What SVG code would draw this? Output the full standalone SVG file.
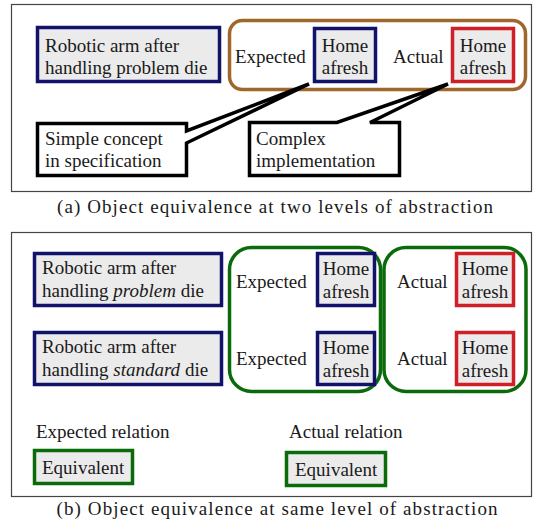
<svg xmlns="http://www.w3.org/2000/svg" width="543" height="521" viewBox="0 0 543 521" font-family="'Liberation Serif', 'DejaVu Serif', serif">
<style>
text{font-family:'Liberation Serif','DejaVu Serif',serif;font-size:19px;fill:#1a1a1a}
.frame{fill:#fff;stroke:#444;stroke-width:1.2}
.navy{fill:#ebebeb;stroke:#12126b;stroke-width:3.5}
.red{fill:#ebebeb;stroke:#d01f26;stroke-width:3.5}
.grn{fill:#ebebeb;stroke:#0b6b0b;stroke-width:3.5}
.brown{fill:none;stroke:#a0672d;stroke-width:3.5}
.gring{fill:none;stroke:#0b6b0b;stroke-width:3.5}
.call{fill:#fff;stroke:#000;stroke-width:3.5;stroke-linejoin:miter}
.mid{text-anchor:middle}
.cap{font-size:19px}
</style>
<rect width="543" height="521" fill="#fff"/>
<g id="panel-a">
<rect class="frame" x="11.5" y="4.5" width="520" height="187"/>
<g id="a-arm"><rect class="navy" x="37.5" y="27.5" width="182" height="54"/>
<text x="45" y="52">Robotic arm after</text><text x="45" y="74">handling problem die</text></g>
<g id="a-group"><rect class="brown" x="229.5" y="20.5" width="296" height="69" rx="13"/>
<text x="235" y="63">Expected</text><text x="393" y="63">Actual</text></g>
<g id="a-home-exp"><rect class="navy" x="314.5" y="28.5" width="61" height="53"/>
<text class="mid" x="345" y="52">Home</text><text class="mid" x="345" y="74">afresh</text></g>
<g id="a-home-act"><rect class="red" x="452.5" y="28.5" width="61" height="53"/>
<text class="mid" x="483" y="52">Home</text><text class="mid" x="483" y="74">afresh</text></g>
</g>
<g id="connectors">
<g id="a-callout-simple"><path class="call" d="M37.5,123.5 H186.5 V131 L309,84 L186.5,143 V175.5 H37.5 Z"/>
<text x="45" y="145">Simple concept</text><text x="45" y="167">in specification</text></g>
<g id="a-callout-complex"><path class="call" d="M249.5,122.5 H337 L448,84 L370,122.5 H399.5 V175.5 H249.5 Z"/>
<text x="256" y="145">Complex</text><text x="256" y="167">implementation</text></g>
</g>
<text id="caption-a" class="cap mid" x="275" y="213" textLength="436" lengthAdjust="spacing">(a) Object equivalence at two levels of abstraction</text>
<g id="panel-b">
<rect class="frame" x="11.5" y="232.5" width="520" height="264"/>
<g id="b-arm-problem"><rect class="navy" x="34.5" y="253.5" width="187" height="52"/>
<text x="42" y="274">Robotic arm after</text><text x="42" y="297">handling <tspan font-style="italic">problem</tspan> die</text></g>
<g id="b-arm-standard"><rect class="navy" x="34.5" y="332.5" width="187" height="52"/>
<text x="42" y="353">Robotic arm after</text><text x="42" y="376">handling <tspan font-style="italic">standard</tspan> die</text></g>
<g id="b-expected-group"><rect class="gring" x="229.5" y="247.5" width="151" height="144" rx="22"/>
<text x="236" y="288">Expected</text><text x="236" y="365">Expected</text></g>
<g id="b-actual-group"><rect class="gring" x="384" y="247.5" width="142" height="144" rx="22"/>
<text x="397" y="288">Actual</text><text x="397" y="365">Actual</text></g>
<g id="b-home-exp1"><rect class="navy" x="317.5" y="253.5" width="57" height="52"/>
<text class="mid" x="346" y="275">Home</text><text class="mid" x="346" y="298">afresh</text></g>
<g id="b-home-exp2"><rect class="navy" x="317.5" y="332.5" width="57" height="52"/>
<text class="mid" x="346" y="354">Home</text><text class="mid" x="346" y="377">afresh</text></g>
<g id="b-home-act1"><rect class="red" x="456.5" y="253.5" width="57" height="52"/>
<text class="mid" x="485" y="275">Home</text><text class="mid" x="485" y="298">afresh</text></g>
<g id="b-home-act2"><rect class="red" x="456.5" y="332.5" width="57" height="52"/>
<text class="mid" x="485" y="354">Home</text><text class="mid" x="485" y="377">afresh</text></g>
<g id="b-exp-rel"><text x="36" y="438">Expected relation</text>
<rect class="grn" x="34.5" y="450.5" width="98" height="33"/><text x="42" y="474">Equivalent</text></g>
<g id="b-act-rel"><text x="289" y="438">Actual relation</text>
<rect class="grn" x="286.5" y="452.5" width="99" height="33"/><text x="295" y="476">Equivalent</text></g>
</g>
<text id="caption-b" class="cap mid" x="277" y="515" textLength="441" lengthAdjust="spacing">(b) Object equivalence at same level of abstraction</text>
</svg>
